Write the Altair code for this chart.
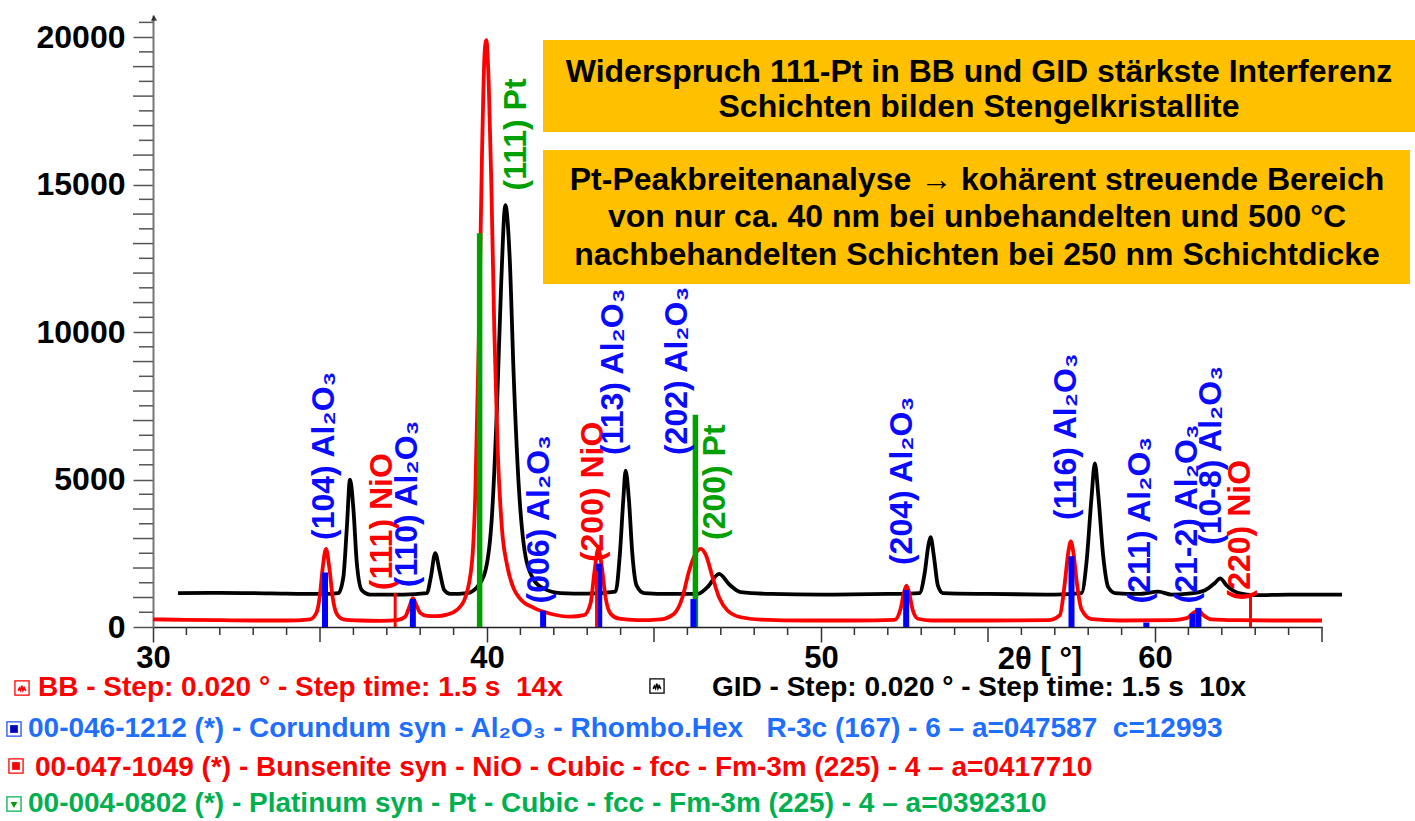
import altair as alt
import pandas as pd

FONT = "Liberation Sans"
NB = "\u00a0"

# ---------------- data ----------------
bb_x = [30.0, 31.0, 32.0, 33.0, 34.0, 34.7, 34.9, 35.0, 35.08, 35.18, 35.28, 35.38, 35.5, 35.7,
        36.2, 36.8, 37.3, 37.55, 37.68, 37.78, 37.88, 38.0, 38.2, 38.5, 38.8, 39.1, 39.35, 39.55,
        39.65, 39.75, 39.85, 39.93, 39.98, 40.05, 40.13, 40.22, 40.32, 40.45, 40.6, 40.8, 41.0,
        41.4, 41.9, 42.5, 42.9, 43.1, 43.22, 43.33, 43.43, 43.55, 43.7, 43.95, 44.5, 45.2, 45.6,
        45.85, 46.05, 46.25, 46.4, 46.55, 46.75, 46.95, 47.2, 47.6, 48.2, 49.5, 51.0, 52.2, 52.38,
        52.48, 52.56, 52.64, 52.74, 52.9, 53.3, 55.0, 56.8, 57.15, 57.3, 57.4, 57.48, 57.56, 57.66,
        57.8, 58.1, 59.0, 60.5, 60.95, 61.15, 61.3, 61.45, 61.7, 62.5, 63.5, 65.0]
bb_y = [260, 240, 230, 220, 220, 260, 500, 1100, 2000, 2650, 2000, 1000, 450, 260,
        220, 210, 230, 350, 700, 980, 750, 480, 380, 370, 420, 580, 1000, 2200,
        4500, 9500, 16000, 19500, 19900, 18500, 15000, 10000, 6000, 3300, 2100, 1300, 950,
        650, 450, 350, 400, 800, 1900, 2650, 2100, 1000, 450, 280, 230, 260, 450,
        1000, 1900, 2500, 2650, 2450, 1700, 1000, 560, 330, 250, 220, 220, 240, 600,
        1150, 1400, 1150, 600, 280, 220, 220, 230, 400, 1500, 2500, 2900, 2500, 1500,
        600, 270, 220, 230, 300, 480, 560, 400, 260, 230, 220, 220]

gid_x = [30.75, 32.0, 33.5, 35.0, 35.55, 35.7, 35.8, 35.9, 36.0, 36.1, 36.25, 36.5, 37.5, 38.2,
         38.32, 38.45, 38.58, 38.72, 38.9, 39.4, 39.7, 39.95, 40.15, 40.3, 40.42, 40.55, 40.68,
         40.8, 40.95, 41.1, 41.35, 41.7, 42.2, 43.0, 43.85, 43.98, 44.08, 44.15, 44.25, 44.35,
         44.48, 44.7, 45.5, 46.3, 46.6, 46.95, 47.25, 47.6, 48.5, 50.0, 52.0, 52.95, 53.1, 53.22,
         53.28, 53.38, 53.5, 53.65, 55.0, 57.0, 57.8, 57.95, 58.1, 58.2, 58.3, 58.45, 58.6, 58.8,
         59.5, 60.1, 60.5, 61.0, 61.5, 61.8, 61.95, 62.15, 62.5, 63.0, 64.0, 65.6]
gid_y = [1150, 1160, 1140, 1120, 1150, 1700, 3300, 5000, 4000, 2200, 1250, 1100, 1100, 1150,
         1700, 2500, 1900, 1250, 1120, 1150, 1350, 1900, 3800, 7500, 11500, 14300, 12500,
         8500, 4800, 2800, 1700, 1300, 1150, 1130, 1200, 2500, 4300, 5300, 4300, 2500,
         1400, 1150, 1120, 1120, 1350, 1800, 1450, 1180, 1120, 1100, 1120, 1150, 1800, 2800,
         3050, 2400, 1400, 1150, 1120, 1100, 1150, 2200, 4400, 5550, 4500, 2400, 1350, 1150,
         1120, 1200, 1100, 1130, 1250, 1500, 1650, 1400, 1150, 1080, 1100, 1100]

al_pos = [35.15, 37.78, 41.68, 43.36, 46.18, 52.55, 57.50, 59.74, 61.12, 61.30]
al_int = [1850, 950, 550, 2150, 950, 1250, 2400, 150, 450, 650]
nio_pos = [37.25, 43.28, 62.86]
nio_int = [1150, 1900, 1150]
pt_pos = [39.78, 46.24]
pt_int = [13350, 7200]

label_text = ["(104) Al₂O₃", "(111) NiO", "(110) Al₂O₃", "(111) Pt", "(006) Al₂O₃",
              "(200) NiO", "(113) Al₂O₃", "(202) Al₂O₃", "(200) Pt", "(204) Al₂O₃",
              "(116) Al₂O₃", "(211) Al₂O₃", "(21-2) Al₂O₃", "(10-8) Al₂O₃", "(220) NiO"]
label_x = [35.13, 36.87, 37.59, 40.88, 41.57, 43.16, 43.76, 45.70, 46.84, 52.44,
           57.35, 59.54, 60.95, 61.69, 62.53]
label_y = [2950, 1250, 1350, 14800, 800, 2200, 5830, 5830, 2950, 2100,
           3630, 800, 800, 2780, 900]
label_phase = ["Al", "NiO", "Al", "Pt", "Al", "NiO", "Al", "Al", "Pt", "Al",
               "Al", "Al", "Al", "Al", "NiO"]

x_major = [30, 40, 50, 60]
x_mid = [35, 45, 55, 65]
x_minor = [v for v in range(31, 65) if v % 5 != 0]
y_major = [0, 5000, 10000, 15000, 20000]
y_thousand = [v for v in range(1000, 21000, 1000) if v % 5000 != 0]
y_half = [v for v in range(500, 21000, 1000)]

box1_lines = ["Widerspruch 111-Pt in BB und GID stärkste Interferenz",
              "Schichten bilden Stengelkristallite"]
box2_lines = ["Pt-Peakbreitenanalyse → kohärent streuende Bereich",
              "von nur ca. 40 nm bei unbehandelten und 500 °C",
              "nachbehandelten Schichten bei 250 nm Schichtdicke"]
leg_bb = "BB - Step: 0.020 ° - Step time: 1.5 s" + NB + " 14x"
leg_gid = "GID - Step: 0.020 ° - Step time: 1.5 s" + NB + " 10x"
leg_al = ("00-046-1212 (*) - Corundum syn - Al₂O₃ - Rhombo.Hex" + NB * 2 +
          " R-3c (167) - 6 – a=047587" + NB + " c=12993")
leg_nio = "00-047-1049 (*) - Bunsenite syn - NiO - Cubic - fcc - Fm-3m (225) - 4 – a=0417710"
leg_pt = "00-004-0802 (*) - Platinum syn - Pt - Cubic - fcc - Fm-3m (225) - 4 – a=0392310"
axis_title = "2θ [ °]"

# ---------------- chart ----------------
W, H = 1169, 612
xs = alt.Scale(domain=[30, 65], nice=False, zero=False)
ys = alt.Scale(domain=[0, 20750], nice=False)

one = pd.DataFrame({"a": [0]})

gid = alt.Chart(pd.DataFrame({"x": gid_x, "y": gid_y})).mark_line(
    color="black", strokeWidth=3.8, interpolate="monotone"
).encode(
    x=alt.X("x:Q", scale=xs, axis=alt.Axis(
        values=x_major, title=None, grid=False, tickSize=15, tickColor="#333", tickWidth=1.5,
        domainColor="#222", domainWidth=1.5, labelFont=FONT, labelFontSize=31,
        labelFontWeight="bold", labelColor="black", labelPadding=1, labelFlush=False,
        labelOverlap=False)),
    y=alt.Y("y:Q", scale=ys, axis=alt.Axis(
        values=y_major, format="d", title=None, grid=False, tickSize=20, tickColor="#555",
        tickWidth=1.5, domainColor="#777", domainWidth=2, labelFont=FONT, labelFontSize=32,
        labelFontWeight="bold", labelColor="black", labelPadding=8, labelOverlap=False)),
)

bb = alt.Chart(pd.DataFrame({"x": bb_x, "y": bb_y})).mark_line(
    color="#FF0000", strokeWidth=3.8, interpolate="monotone"
).encode(x=alt.X("x:Q", scale=xs), y=alt.Y("y:Q", scale=ys))


def sticks(pos, inten, color, w):
    return alt.Chart(pd.DataFrame({"x": pos, "y": inten, "z": [0] * len(pos)})).mark_rule(
        color=color, strokeWidth=w
    ).encode(x=alt.X("x:Q", scale=xs), y=alt.Y("z:Q", scale=ys), y2="y:Q")


pt_st = sticks(pt_pos, pt_int, "#00A000", 5.5)
al_st = sticks(al_pos, al_int, "#0000FF", 6)
nio_st = sticks(nio_pos, nio_int, "#FF0000", 3)

labels = alt.Chart(pd.DataFrame({"t": label_text, "x": label_x, "y": label_y,
                                 "ph": label_phase})).mark_text(
    angle=270, align="left", baseline="middle", font=FONT, fontSize=32, fontWeight="bold"
).encode(
    x=alt.X("x:Q", scale=xs), y=alt.Y("y:Q", scale=ys), text="t:N",
    color=alt.Color("ph:N", scale=alt.Scale(domain=["Al", "NiO", "Pt"],
                                            range=["#0A0AFF", "#FF0000", "#00A000"]),
                    legend=None),
)


def yticks(vals, length):
    return alt.Chart(pd.DataFrame({"v": vals})).mark_rule(color="#555", strokeWidth=1.5).encode(
        y=alt.Y("v:Q", scale=ys), x=alt.value(-length), x2=alt.value(0))


def xticks(vals, length):
    return alt.Chart(pd.DataFrame({"v": vals})).mark_rule(color="#333", strokeWidth=1.5).encode(
        x=alt.X("v:Q", scale=xs), y=alt.value(H), y2=alt.value(H + length))


arrow = alt.Chart(one).mark_point(shape="triangle-up", filled=True, color="black", size=40).encode(
    x=alt.value(1), y=alt.value(3))


def box(x1, x2, y1, y2):
    return alt.Chart(one).mark_rect(color="#FFC000").encode(
        x=alt.value(x1), x2=alt.value(x2), y=alt.value(y1), y2=alt.value(y2))


def txt(s, x, y, size, color="black", align="center"):
    return alt.Chart(one).mark_text(
        text=s, font=FONT, fontSize=size, fontWeight="bold", color=color, align=align,
        baseline="middle").encode(x=alt.value(x), y=alt.value(y))


def sq(x, y, color, size, filled, shape="square", sw=1.3):
    return alt.Chart(one).mark_point(shape=shape, filled=filled, color=color, size=size,
                                     strokeWidth=sw, opacity=1).encode(
        x=alt.value(x), y=alt.value(y))


zig = "M-0.8,0.4L-0.55,-0.2L-0.3,0.3L-0.05,-0.7L0.2,0.3L0.45,-0.3L0.8,0.4"

layers = [gid, bb, pt_st, al_st, nio_st, labels,
          yticks(y_thousand, 20), yticks(y_half, 14),
          xticks(x_minor, 8), xticks(x_mid, 15), arrow,
          box(390, 1262, 25, 117), box(390, 1257, 135, 269),
          txt(box1_lines[0], 826, 57, 32), txt(box1_lines[1], 826, 92, 32),
          txt(box2_lines[0], 824, 165, 32), txt(box2_lines[1], 824, 202, 32),
          txt(box2_lines[2], 824, 240, 32),
          txt(axis_title, 887, 645, 31),
          # legend
          sq(-131, 673, "#FF0000", 200, False), sq(-131, 674, "#FF0000", 90, False, zig, 1.6),
          txt(leg_bb, -115, 673, 28, "#FF0000", "left"),
          sq(504, 671, "black", 200, False), sq(504, 672, "black", 90, False, zig, 1.6),
          txt(leg_gid, 559, 673, 28, "black", "left"),
          sq(-139, 714, "#1E50FF", 200, False), sq(-139, 714, "#0000C0", 60, True),
          txt(leg_al, -125, 714, 28, "#1E6EFF", "left"),
          sq(-137, 751, "#FF0000", 200, False), sq(-137, 751, "#FF0000", 60, True),
          txt(leg_nio, -118, 753, 28, "#FF0000", "left"),
          sq(-139, 789, "#00B050", 200, False), sq(-139, 790, "#00A000", 45, True, "triangle-down"),
          txt(leg_pt, -125, 789, 28, "#00B050", "left"),
          ]

chart = alt.layer(*layers).properties(
    width=W, height=H,
    padding={"left": 153, "top": 15, "right": 93, "bottom": 194},
    autosize=alt.AutoSizeParams(type="none"),
    background="white",
).configure_view(stroke=None)

chart.save("out.html", embed_options={"renderer": "svg", "actions": False})
